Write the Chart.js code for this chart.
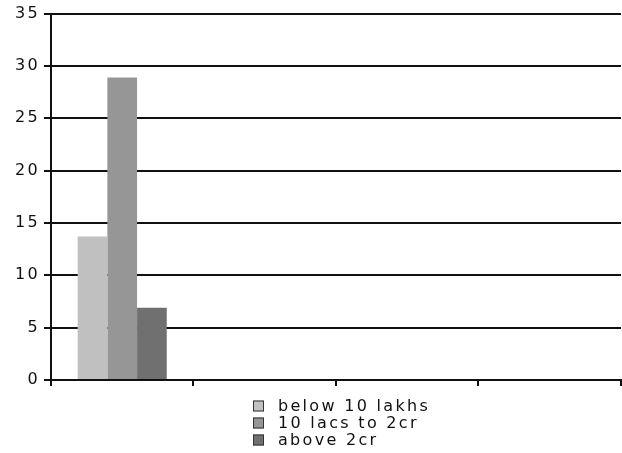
<!DOCTYPE html>
<html>
<head>
<meta charset="utf-8">
<script src="https://cdn.jsdelivr.net/npm/chart.js@4/dist/chart.umd.min.js"></script>
<style>
  html, body { margin: 0; padding: 0; background: #fff; }
  #wrap { width: 622px; height: 453px; position: relative; }
</style>
</head>
<body>
<div id="wrap"><canvas id="c"></canvas></div>
<script>
// Income groups on the x axis (only the first group carries values)
const categories = ['', '', '', ''];

// Series shown in the legend
const seriesNames = ['below 10 lakhs', '10 lacs to 2cr', 'above 2cr'];
const seriesColors = ['#c0c0c0', '#969696', '#707070'];

// Percentages per series, one entry per category
const belowTenLakhs = [13.7, null, null, null];
const tenLacsToTwoCr = [28.9, null, null, null];
const aboveTwoCr = [6.9, null, null, null];

// Y axis range and step
const yMin = 0;
const yMax = 35;
const yStep = 5;

const seriesValues = [belowTenLakhs, tenLacsToTwoCr, aboveTwoCr];
const FONT = "'DejaVu Sans', sans-serif";
const SPACING = '2.3px';

// Wider letter spacing for all canvas text
const spacingPlugin = {
  id: 'spacing',
  beforeUpdate(chart) { chart.ctx.letterSpacing = SPACING; },
  beforeLayout(chart) { chart.ctx.letterSpacing = SPACING; },
  beforeDraw(chart) { chart.ctx.letterSpacing = SPACING; }
};

// Vertical legend drawn beneath the axis
const stackedLegend = {
  id: 'stackedLegend',
  afterDraw(chart) {
    const ctx = chart.ctx;
    ctx.save();
    ctx.letterSpacing = SPACING;
    ctx.font = '16px ' + FONT;
    ctx.textBaseline = 'middle';
    ctx.textAlign = 'left';
    const boxX = 253, textX = 278, firstY = 406, rowH = 17, box = 11;
    chart.data.datasets.forEach((ds, i) => {
      const cy = firstY + i * rowH;
      ctx.fillStyle = ds.backgroundColor;
      ctx.fillRect(boxX, cy - box / 2, box, box);
      ctx.strokeStyle = '#333';
      ctx.lineWidth = 1;
      ctx.strokeRect(boxX + 0.5, cy - box / 2 + 0.5, box - 1, box - 1);
      ctx.fillStyle = '#111';
      ctx.fillText(ds.label, textX, cy + 1);
    });
    ctx.restore();
  }
};

new Chart(document.getElementById('c'), {
  type: 'bar',
  data: {
    labels: categories,
    datasets: seriesNames.map((name, i) => ({
      label: name,
      data: seriesValues[i],
      backgroundColor: seriesColors[i],
      borderWidth: 0,
      categoryPercentage: 0.625,
      barPercentage: 1.0
    }))
  },
  options: {
    responsive: true,
    maintainAspectRatio: false,
    animation: false,
    layout: { padding: { top: 12, left: 11, right: 1, bottom: 67 } },
    plugins: {
      legend: { display: false },
      tooltip: { enabled: false }
    },
    scales: {
      x: {
        grid: {
          display: true,
          offset: true,
          drawOnChartArea: false,
          drawTicks: true,
          tickLength: 6,
          color: '#111',
          lineWidth: 2
        },
        border: { display: true, color: '#111', width: 2 },
        ticks: { display: false }
      },
      y: {
        min: yMin,
        max: yMax,
        grid: {
          color: '#111',
          lineWidth: 2,
          drawTicks: true,
          tickLength: 7
        },
        border: { display: true, color: '#111', width: 2 },
        ticks: {
          stepSize: yStep,
          color: '#111',
          padding: 4,
          font: { family: FONT, size: 16 }
        }
      }
    }
  },
  plugins: [spacingPlugin, stackedLegend]
});
</script>
</body>
</html>
